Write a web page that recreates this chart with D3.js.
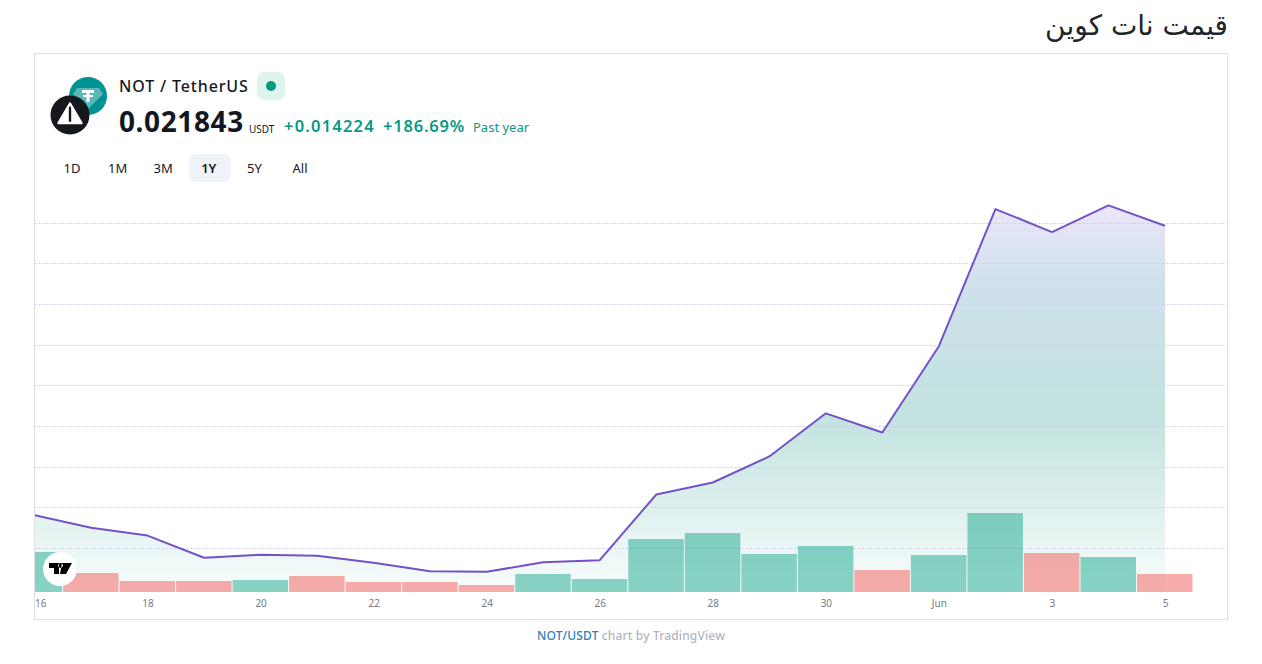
<!DOCTYPE html>
<html lang="fa">
<head>
<meta charset="utf-8">
<title>NOT / USDT</title>
<style>
  html, body { margin: 0; padding: 0; background: #fff; }
  svg { display: block; }
  text { font-family: "Noto Sans", "Open Sans", sans-serif; }
</style>
</head>
<body>
<div id="chart"></div>
<script src="https://cdnjs.cloudflare.com/ajax/libs/d3/7.8.5/d3.min.js"></script>
<script>
// Daily candles, May 16 to Jun 5
const days = ['16', '17', '18', '19', '20', '21', '22', '23', '24', '25', '26', '27', '28', '29', '30', '31', 'Jun', '2', '3', '4', '5'];
const closes = [0.00762, 0.0070, 0.00661, 0.00552, 0.00567, 0.00562, 0.00528, 0.00486, 0.00483, 0.00530, 0.00540,
    0.00863, 0.00922, 0.01050, 0.01262, 0.01168, 0.01592, 0.02266, 0.02153, 0.02284, 0.021843];
const volumes = [40, 19, 11, 11, 12, 16, 10, 10, 7, 18, 13, 53, 59, 38, 46, 22, 37, 79, 39, 35, 18];
const volumeUp = [true, false, false, false, true, false, false, false, false, true, true,
    true, true, true, true, false, true, true, false, true, false];
const tickLabels = ['16', '18', '20', '22', '24', '26', '28', '30', 'Jun', '3', '5'];
const gridValues = [0.006, 0.008, 0.010, 0.012, 0.014, 0.016, 0.018, 0.020, 0.022];
const ranges = ['1D', '1M', '3M', '1Y', '5Y', 'All'];

const width = 1262, height = 664;
const frame = { left: 34.5, right: 1227.5, top: 53.5, bottom: 619.5 };
const plotBottom = 592;

const svg = d3.select('#chart').append('svg')
    .attr('width', width)
    .attr('height', height);

const defs = svg.append('defs');

const areaGrad = defs.append('linearGradient')
    .attr('id', 'area-fill')
    .attr('gradientUnits', 'userSpaceOnUse')
    .attr('x1', 0).attr('x2', 0).attr('y1', 205).attr('y2', plotBottom);
areaGrad.append('stop').attr('offset', 0).attr('stop-color', '#ebe6fa');
areaGrad.append('stop').attr('offset', 0.2).attr('stop-color', '#cfe1ec');
areaGrad.append('stop').attr('offset', 0.55).attr('stop-color', '#c2e3e0');
areaGrad.append('stop').attr('offset', 1).attr('stop-color', '#f8fdfc');

defs.append('clipPath').attr('id', 'plot-clip')
    .append('rect')
    .attr('x', frame.left + 0.5).attr('y', frame.top)
    .attr('width', frame.right - frame.left - 1).attr('height', frame.bottom - frame.top);

// Scales
const x = d3.scalePoint().domain(d3.range(days.length)).range([34.5, 1165]);
const y = d3.scaleLinear().domain([0.006, 0.022]).range([548, 222.5]);
const yVol = d3.scaleLinear().domain([0, 79]).range([plotBottom, 513]);

// Title and frame
svg.append('text')
    .attr('x', 1228).attr('y', 35)
    .attr('text-anchor', 'start')
    .attr('direction', 'rtl')
    .style('font-family', '"DejaVu Sans", sans-serif')
    .style('font-size', '28px')
    .attr('fill', '#212529')
    .text('قیمت نات کوین');

svg.append('rect')
    .attr('x', frame.left).attr('y', frame.top)
    .attr('width', frame.right - frame.left).attr('height', frame.bottom - frame.top)
    .attr('fill', '#fff').attr('stroke', '#e0e0e0');

const plot = svg.append('g').attr('clip-path', 'url(#plot-clip)');

// Area under the line
const area = d3.area()
    .x((d, i) => x(i))
    .y0(plotBottom)
    .y1(d => y(d));
plot.append('path').datum(closes).attr('d', area).attr('fill', 'url(#area-fill)');

// Grid
plot.selectAll('.grid').data(gridValues).join('line')
    .attr('class', 'grid')
    .attr('x1', frame.left).attr('x2', frame.right)
    .attr('y1', d => Math.round(y(d)) + 0.5).attr('y2', d => Math.round(y(d)) + 0.5)
    .attr('stroke', '#cfcaec')
    .attr('stroke-dasharray', '2 2');

// Volume bars
plot.selectAll('.bar').data(volumes).join('rect')
    .attr('class', 'bar')
    .attr('x', (d, i) => x(i) - 28)
    .attr('width', 55.5)
    .attr('y', d => yVol(d))
    .attr('height', d => plotBottom - yVol(d))
    .attr('fill', (d, i) => volumeUp[i] ? 'rgba(24,168,140,0.5)' : 'rgba(242,90,86,0.5)');

// Price line
const line = d3.line().x((d, i) => x(i)).y(d => y(d));
plot.append('path').datum(closes)
    .attr('d', line)
    .attr('fill', 'none')
    .attr('stroke', '#7352c7')
    .attr('stroke-width', 2)
    .attr('stroke-linejoin', 'round');

// X axis
const xAxis = d3.axisBottom(x)
    .tickValues(tickLabels.map(t => days.indexOf(t)))
    .tickSize(0)
    .tickPadding(8)
    .tickFormat(i => days[i]);
const axisG = svg.append('g').attr('transform', `translate(0,${plotBottom})`).call(xAxis);
axisG.select('.domain').remove();
axisG.selectAll('text')
    .style('font-family', '"Noto Sans", sans-serif')
    .style('font-size', '10px')
    .attr('fill', '#787b86')
    .attr('text-anchor', (d, i) => i === 0 ? 'start' : 'middle');

// TradingView badge
const tv = svg.append('g').attr('transform', 'translate(60,569)');
tv.append('circle').attr('r', 17).attr('fill', '#fff');
tv.append('path')
    .attr('transform', 'translate(-11,-6)')
    .attr('d', 'M0 0H10V11H5V5H0Z M13 0H23L17 11H11Z M11.5 0a2.4 2.4 0 1 0 .01 0Z')
    .attr('fill', '#000');

// Pair icons
const tether = svg.append('g').attr('transform', 'translate(88,96)');
tether.append('circle').attr('r', 19).attr('fill', '#009393');
tether.append('path').attr('d', 'M-11 -8H11L15 -2L0 13L-15 -2Z').attr('fill', '#fff').attr('opacity', 0.35);
tether.append('path').attr('d', 'M-6 -6H6V-3H1.5V-1H5V1H1.5V6H-1.5V1H-5V-1H-1.5V-3H-6Z').attr('fill', '#fff');

const notcoin = svg.append('g').attr('transform', 'translate(70,115)');
notcoin.append('circle').attr('r', 19.5).attr('fill', '#15181c');
notcoin.append('path')
    .attr('d', 'M0 -11.5L11.5 8H-11.5Z')
    .attr('fill', 'none').attr('stroke', '#fff').attr('stroke-width', 2.4).attr('stroke-linejoin', 'round');
notcoin.append('path').attr('d', 'M-1.2 -9V8H-10.5Z M1.2 -9V8H10.5Z').attr('fill', '#fff');

// Header
const header = svg.append('g');
header.append('text').attr('x', 119).attr('y', 91.5)
    .style('font-size', '16px').style('font-weight', 500).style('letter-spacing', '0.85px')
    .attr('fill', '#131722').text('NOT / TetherUS');
header.append('rect').attr('x', 257).attr('y', 72).attr('width', 28).attr('height', 28).attr('rx', 7)
    .attr('fill', '#dff4ee');
header.append('circle').attr('cx', 271).attr('cy', 86).attr('r', 5).attr('fill', '#089981');
header.append('text').attr('x', 119).attr('y', 132)
    .style('font-size', '28px').style('font-weight', 700).style('letter-spacing', '0.6px')
    .attr('fill', '#131722').text('0.021843');
header.append('text').attr('x', 249).attr('y', 133)
    .style('font-size', '10px')
    .attr('fill', '#131722').text('USDT');
header.append('text').attr('x', 284).attr('y', 132)
    .style('font-size', '16.5px').style('font-weight', 600).style('letter-spacing', '1.2px')
    .attr('fill', '#089981').text('+0.014224');
header.append('text').attr('x', 383).attr('y', 132)
    .style('font-size', '16.5px').style('font-weight', 600).style('letter-spacing', '0.8px')
    .attr('fill', '#089981').text('+186.69%');
header.append('text').attr('x', 473).attr('y', 132)
    .style('font-size', '13px')
    .attr('fill', '#089981').text('Past year');

// Range buttons
const rangeX = d3.scalePoint().domain(ranges).range([72, 300]);
svg.append('rect').attr('x', 189).attr('y', 154).attr('width', 42).attr('height', 28).attr('rx', 6)
    .attr('fill', '#f0f3fa');
svg.selectAll('.range').data(ranges).join('text')
    .attr('class', 'range')
    .attr('x', d => rangeX(d)).attr('y', 173)
    .attr('text-anchor', 'middle')
    .style('font-size', '13px')
    .style('font-weight', d => d === '1Y' ? 600 : 400)
    .attr('fill', '#131722')
    .text(d => d);

// Attribution
const credit = svg.append('text').attr('x', 631).attr('y', 640)
    .attr('text-anchor', 'middle')
    .style('font-size', '12px').style('font-weight', 500).style('letter-spacing', '0.15px')
    .attr('fill', '#b2b5be');
credit.append('tspan').attr('fill', '#2e7fc0').text('NOT/USDT');
credit.append('tspan').text(' chart by TradingView');
</script>
</body>
</html>
